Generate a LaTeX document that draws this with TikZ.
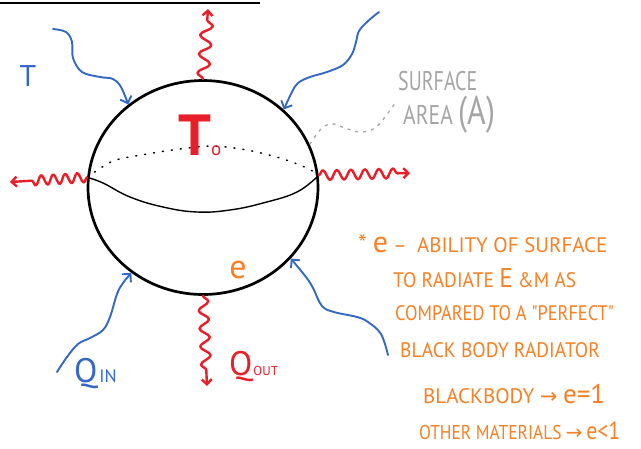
\documentclass[tikz,border=0pt]{standalone}
\usepackage{fontspec}
\setmainfont{PT Sans}
\newfontfamily\arrowfont{DejaVu Sans}
\newfontfamily\handnarrow[FakeStretch=0.87]{PT Sans}
\newfontfamily\handmid[FakeStretch=0.93]{PT Sans}
\newfontfamily\graynarrow[FakeStretch=0.74]{PT Sans}
\newfontfamily\graymid[FakeStretch=0.8]{PT Sans}
\usetikzlibrary{shapes.geometric,decorations.pathmorphing,arrows.meta}
\definecolor{hblue}{RGB}{52,104,196}
\definecolor{hred}{RGB}{232,30,40}
\definecolor{horange}{RGB}{246,128,36}
\definecolor{hgray}{RGB}{165,165,165}
\begin{document}
\begin{tikzpicture}[x=1pt,y=1pt,
  bluearrow/.style={hblue, line width=1.9pt, line cap=round, line join=round, -{Straight Barb[length=6pt,width=12pt]}},
  redwave/.style={hred, line width=2.4pt, line cap=round, line join=round, decorate, -{Straight Barb[length=5pt,width=10pt]}},
  orangetxt/.style={horange, anchor=base west, inner sep=0pt, font=\fontsize{21}{21}\selectfont},
  graytxt/.style={hgray, anchor=base west, inner sep=0pt},
  lbl/.style={inner sep=0pt}
 ]
\useasboundingbox (0,0) rectangle (641,-448);
% top rule
\draw[line width=2.5pt] (0,-3) -- (260,-3);
% sphere
\node[draw, ellipse, line width=2.7pt, minimum width=230pt, minimum height=214pt, inner sep=0pt] (sphere) at (203,-187.5) {};
% equator
\draw[line width=1.4pt] plot[smooth, tension=0.7] coordinates {(sphere.175) (103,-183) (130,-197) (163,-207) (197,-212) (230,-210) (263,-203) (297,-192) (sphere.6)};
\draw[line width=1.5pt, dash pattern=on 1pt off 8pt, line cap=round] plot[smooth] coordinates {(sphere.175) (113,-161) (147,-154) (180,-149) (213,-146) (247,-150) (280,-158) (307,-168) (sphere.6)};
% red radiation
\coordinate (topend) at (208,-9);
\coordinate (botend) at (207,-386);
\coordinate (leftend) at (10,-182);
\coordinate (rightend) at (410,-173);
\draw[redwave, decoration={snake, amplitude=6pt, segment length=19pt, post length=6pt}] (sphere.north) -- (topend);
\draw[redwave, decoration={snake, amplitude=5pt, segment length=18pt, post length=12pt}] (sphere.south) -- (botend);
\draw[redwave, decoration={snake, amplitude=5pt, segment length=12pt, post length=20pt}] (sphere.175) -- (leftend);
\draw[redwave, decoration={snake, amplitude=5pt, segment length=14pt, post length=8pt}] (sphere.6) -- (rightend);
% blue incoming
\coordinate (b1) at (53,-29);
\coordinate (b2) at (379,-12);
\coordinate (b3) at (57,-372);
\coordinate (b4) at (388,-355);
\draw[bluearrow] plot[smooth, tension=0.6] coordinates {(b1) (66,-32) (72,-42) (73,-58) (82,-72) (100,-77) (113,-79) (121,-87) (sphere.132)};
\draw[bluearrow] plot[smooth, tension=0.6] coordinates {(b2) (368,-21) (359,-31) (356,-42) (352,-54) (343,-65) (327,-72) (310,-77) (298,-83) (292,-92) (sphere.44)};
\draw[bluearrow] plot[smooth, tension=0.6] coordinates {(b3) (67,-357) (78,-344) (90,-338) (103,-330) (110,-317) (117,-294) (123,-283) (sphere.230)};
\draw[bluearrow] plot[smooth, tension=0.6] coordinates {(b4) (381,-334) (368,-322) (357,-317) (334,-312) (322,-306) (313,-288) (306,-277) (sphere.321)};
% labels
\node[lbl, hblue, font=\fontsize{30}{30}\selectfont] (Tenv) at (28,-76) {T};
\node[lbl, hred, anchor=base west, font=\fontsize{58}{58}\selectfont\bfseries] (To) at (178,-155) {T{\mdseries\fontsize{19}{19}\selectfont o}};
\node[lbl, horange, anchor=base, font=\fontsize{34}{34}\selectfont] (emis) at (238,-278) {e};
\node[lbl, hblue, anchor=base west, font=\fontsize{34}{34}\selectfont] (qin) at (74,-382) {Q\kern2pt{\fontsize{18}{18}\selectfont IN}};
\node[lbl, hred, anchor=base west, font=\fontsize{34}{34}\selectfont] (qout) at (229,-375) {Q\kern1pt{\fontsize{13}{13}\selectfont OUT}};
% surface area
\node[graytxt, font=\graynarrow\fontsize{27}{27}\selectfont] (surf) at (398,-90) {SURFACE};
\node[graytxt, font=\graymid\fontsize{27}{27}\selectfont] (area) at (403,-124) {AREA {\fontsize{40}{40}\selectfont (A)}};
\coordinate (areadash) at (396,-102);
\draw[hgray, line width=1.3pt, dash pattern=on 3pt off 5pt] plot[smooth, tension=0.6] coordinates {(sphere.22) (322,-128) (333,-124) (345,-128) (360,-132) (375,-128) (388,-113) (areadash)};
% emissivity note
\node[orangetxt] (o1) at (358,-252) {{\fontsize{25}{25}\selectfont *}\hspace{6pt}{\fontsize{30}{30}\selectfont e}\hspace{5pt}–\hspace{10pt}ABILITY OF SURFACE};
\node[orangetxt, font=\handmid\fontsize{21}{21}\selectfont] (o2) at (393,-287) {TO RADIATE {\fontsize{27}{27}\selectfont E} \&M AS};
\node[orangetxt, font=\handnarrow\fontsize{21}{21}\selectfont] (o3) at (395,-320) {COMPARED TO A "PERFECT"};
\node[orangetxt, font=\handmid\fontsize{21}{21}\selectfont] (o4) at (400,-357) {BLACK BODY RADIATOR};
\node[orangetxt] (o5) at (423,-403) {BLACKBODY {\arrowfont →} {\fontsize{27}{27}\selectfont e=1}};
\node[orangetxt, font=\handnarrow\fontsize{20}{20}\selectfont] (o6) at (419,-439) {OTHER MATERIALS\hspace{4pt}{\arrowfont →}\hspace{4pt}{\fontsize{25}{25}\selectfont e<1}};
\end{tikzpicture}
\end{document}
